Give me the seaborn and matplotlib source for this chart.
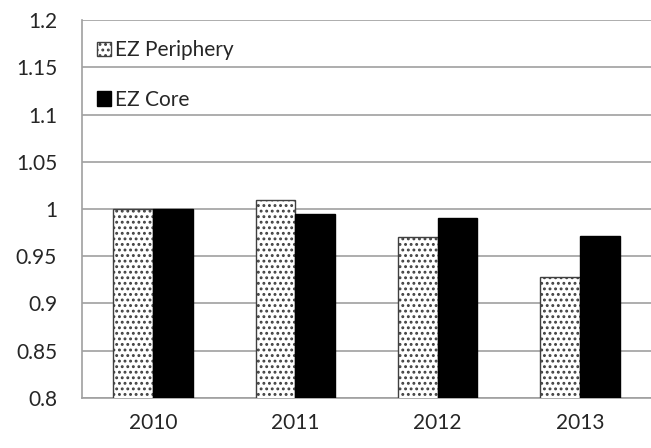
import numpy as np
import pandas as pd
import seaborn as sns
import matplotlib.pyplot as plt
from matplotlib.patches import Patch
from matplotlib.ticker import FuncFormatter, MultipleLocator

years = ["2010", "2011", "2012", "2013"]
periphery = [1.0, 1.01, 0.97, 0.928]
core = [1.0, 0.995, 0.99, 0.971]
series = ["EZ Periphery", "EZ Core"]

df = pd.DataFrame({
    "year": years * 2,
    "value": periphery + core,
    "series": [series[0]] * 4 + [series[1]] * 4,
})

sns.set_style("white")
plt.rcParams["font.family"] = ["Lato", "DejaVu Sans"]
plt.rcParams["hatch.linewidth"] = 1.3

fig, ax = plt.subplots(figsize=(6.51, 4.48), dpi=100)
fig.subplots_adjust(left=0.126, right=1.0, top=0.955, bottom=0.112)

sns.barplot(data=df, x="year", y="value", hue="series", palette=["white", "black"],
            width=0.56, gap=0, ax=ax, legend=False, saturation=1)

n = len(years)
for i, p in enumerate(ax.patches[:2 * n]):
    if i < n:
        p.set_hatch("...")
        p.set_edgecolor("#404040")
        p.set_linewidth(1.0)
    else:
        p.set_edgecolor("black")
    p.set_zorder(3)

ax.set_ylim(0.8, 1.2)
ax.set_xlim(-0.5, 3.5)
ax.yaxis.set_major_locator(MultipleLocator(0.05))
ax.yaxis.set_major_formatter(FuncFormatter(lambda v, _: f"{round(v, 2):g}"))
ax.yaxis.grid(True, color="#a0a0a0", linewidth=1.2, zorder=0)
ax.set_axisbelow(True)
ax.set_xlabel("")
ax.set_ylabel("")
ax.tick_params(axis="both", labelsize=15, length=0)
ax.tick_params(axis="y", pad=18)
ax.tick_params(axis="x", pad=11)

for s in ["top", "right"]:
    ax.spines[s].set_visible(False)
ax.spines["left"].set_color("#a0a0a0")
ax.spines["bottom"].set_color("#a0a0a0")
ax.spines["left"].set_linewidth(1.2)
ax.spines["bottom"].set_linewidth(1.2)

handles = [Patch(facecolor="white", edgecolor="#404040", hatch="...", label=series[0]),
           Patch(facecolor="black", edgecolor="black", label=series[1])]
ax.legend(handles=handles, loc="upper left", bbox_to_anchor=(0.0, 0.985), frameon=False,
          fontsize=15, handlelength=0.7, handleheight=0.7, handletextpad=0.2,
          labelspacing=1.4, borderaxespad=0.3)

fig.savefig("out.png", dpi=100)
